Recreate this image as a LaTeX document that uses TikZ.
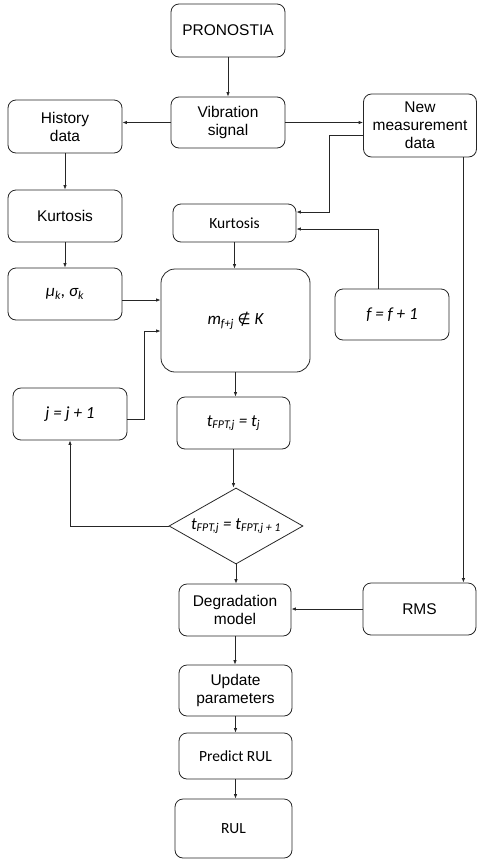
\documentclass[tikz,border=0pt]{standalone}
\usepackage{fontspec}
\setmainfont{Liberation Sans}
\newfontfamily\calfont{Carlito}
\newfontfamily\symfont{DejaVu Sans}
\usetikzlibrary{shapes.geometric,arrows.meta,positioning}
\newcommand{\lnc}{black!85}
\newcommand{\lw}{0.8pt}
\tikzset{
  box/.style={draw=\lnc, line width=\lw, rounded corners=8pt, align=center,
    minimum width=114pt, minimum height=52pt, inner sep=2pt,
    font=\fontsize{15.5}{18}\selectfont},
  calbox/.style={box, font=\calfont\fontsize{15.5}{18}\selectfont},
  eqbox/.style={box, font=\calfont\itshape\fontsize{17}{20}\selectfont},
  decision/.style={draw=\lnc, line width=\lw, diamond, aspect=1.76, inner sep=0pt,
    minimum width=134pt, minimum height=76pt,
    font=\calfont\itshape\fontsize{17}{20}\selectfont},
  arr/.style={draw=\lnc, line width=\lw, -{Latex[length=4.5pt,width=3.5pt]}},
}

\begin{document}
\begin{tikzpicture}[x=1pt, y=-1pt]
    \useasboundingbox (0,0) rectangle (477,860);
    % main column
    \node[box, minimum height=53pt] (pron) at (228,30.5) {PRONOSTIA};
    \node[box, minimum height=51pt] (vib) at (228,122.5) {Vibration\\signal};
    \node[box, minimum height=53pt] (hist) at (65,126.5) {History\\data};
    \node[box, minimum width=113pt, minimum height=63pt] (newm) at (420,125.5) {New\\measurement\\data};
    \node[box] (kurt1) at (65,216) {Kurtosis};
    \node[calbox, minimum width=123pt, minimum height=38pt] (kurt2) at (234.5,223) {Kurtosis};
    \node[eqbox] (mu) at (65,294) {μ\textsubscript{k}, σ\textsubscript{k}};
    \node[eqbox, minimum width=149pt, minimum height=103pt, rounded corners=14pt] (m) at (235.5,320.5) {m\textsubscript{f+j} {\symfont\upshape\fontsize{15}{18}\selectfont ∉} K};
    \node[eqbox, minimum height=51pt] (f) at (392,314.5) {f = f + 1};
    \node[eqbox] (j) at (70,414) {j = j + 1};
    \node[eqbox, minimum width=113pt] (tfpt) at (233.5,423) {t\textsubscript{FPT,j} = t\textsubscript{j}};
    \node[decision] (dia) at (236,526) {t\textsubscript{FPT,j} = t\textsubscript{FPT,j + 1}};
    \node[box, minimum width=112pt] (degr) at (235,610) {Degradation\\model};
    \node[box, minimum width=113pt] (rms) at (419.5,609) {RMS};
    \node[box, minimum width=113pt, minimum height=51pt] (upd) at (235.5,690.5) {Update\\parameters};
    \node[calbox, minimum width=113pt, minimum height=46pt] (pred) at (235.5,756) {Predict RUL};
    \node[calbox, minimum width=117pt, minimum height=59pt] (rul) at (233.5,828.5) {RUL};

    % connectors
    \coordinate (bendA) at (329,135);
    \coordinate (dropA) at ([xshift=-13.5pt]newm.south east);
    \coordinate (muout) at ([yshift=-6pt]mu.east);
    \coordinate (bendB) at (144,331);
    \coordinate (fup) at ([xshift=-14pt]f.north);
    \draw[arr] (pron.south) -- (vib.north);
    \draw[arr] (vib.west) -- (vib.west -| hist.east);
    \draw[arr] (vib.east) -- (vib.east -| newm.west);
    \draw[arr] (newm.west |- bendA) -- (bendA) |- ([yshift=11pt]kurt2.east);
    \draw[arr] (dropA) -- (dropA |- rms.north);
    \draw[arr] (hist.south) -- (kurt1.north);
    \draw[arr] (kurt1.south) -- (mu.north);
    \draw[arr] (kurt2.south) -- (kurt2.south |- m.north);
    \draw[arr] (muout) -- (muout -| m.west);
    \draw[arr] ([yshift=-5pt]j.east) -| (bendB) -- (bendB -| m.west);
    \draw[arr] (fup) |- ([yshift=-6pt]kurt2.east);
    \draw[arr] (m.south) -- (m.south |- tfpt.north);
    \draw[arr] (tfpt.south) -- (tfpt.south |- dia.north);
    \draw[arr] (dia.west) -| (j.south);
    \draw[arr] (dia.south) -- (dia.south |- degr.north);
    \draw[arr] (rms.west) -- (rms.west -| degr.east);
    \draw[arr] (degr.south) -- (degr.south |- upd.north);
    \draw[arr] (upd.south) -- (upd.south |- pred.north);
    \draw[arr] (pred.south) -- (pred.south |- rul.north);
\end{tikzpicture}
\end{document}
